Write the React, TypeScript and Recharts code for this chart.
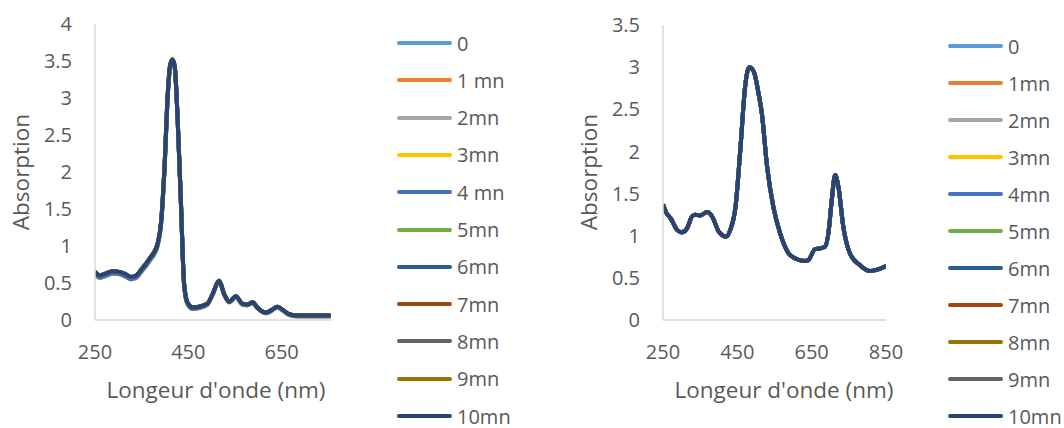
import React from "react";
import { LineChart, Line, XAxis, YAxis } from "recharts";

// left spectrum (Soret band ~416 nm)
const wl1 = [250, 260, 270, 288, 302, 315, 327, 338, 350, 359, 368, 377, 384, 392, 399, 406, 411, 416, 421, 427, 434, 441, 448, 459, 473, 491, 502, 516, 527, 538, 552, 566, 577, 588, 598, 616, 627, 641, 652, 666, 684, 720, 755];
const abs1Late = [0.65, 0.6, 0.62, 0.66, 0.65, 0.62, 0.58, 0.6, 0.69, 0.76, 0.84, 0.92, 1.03, 1.35, 2.07, 3.06, 3.44, 3.52, 3.42, 2.74, 1.62, 0.49, 0.24, 0.17, 0.18, 0.22, 0.35, 0.53, 0.35, 0.25, 0.32, 0.22, 0.21, 0.24, 0.17, 0.1, 0.13, 0.18, 0.14, 0.08, 0.06, 0.06, 0.06];
const abs1Early = [0.62, 0.57, 0.59, 0.63, 0.62, 0.59, 0.55, 0.57, 0.66, 0.73, 0.81, 0.89, 1.0, 1.32, 2.04, 3.03, 3.42, 3.5, 3.4, 2.72, 1.6, 0.47, 0.22, 0.15, 0.16, 0.21, 0.34, 0.52, 0.34, 0.24, 0.31, 0.21, 0.2, 0.23, 0.16, 0.09, 0.12, 0.17, 0.13, 0.07, 0.05, 0.05, 0.05];

// right spectrum
const wl2 = [250, 259, 270, 288, 301, 315, 328, 337, 349, 369, 382, 400, 420, 431, 445, 458, 471, 482, 494, 507, 516, 530, 547, 565, 588, 606, 632, 641, 659, 673, 686, 695, 704, 713, 722, 735, 753, 780, 807, 829, 850];
const abs2 = [1.37, 1.27, 1.21, 1.07, 1.04, 1.09, 1.23, 1.25, 1.24, 1.28, 1.23, 1.05, 0.99, 1.07, 1.34, 2.02, 2.77, 3.0, 2.95, 2.69, 2.45, 1.82, 1.34, 1.03, 0.79, 0.73, 0.7, 0.71, 0.84, 0.85, 0.87, 1.03, 1.42, 1.72, 1.58, 1.11, 0.79, 0.65, 0.58, 0.6, 0.64];

const names1 = ["0", "1 mn", "2mn", "3mn", "4 mn", "5mn", "6mn", "7mn", "8mn", "9mn", "10mn"];
const names2 = ["0", "1mn", "2mn", "3mn", "4mn", "5mn", "6mn", "7mn", "8mn", "9mn", "10mn"];
const colors1 = ["#5B9BD5", "#ED7D31", "#A5A5A5", "#FFC000", "#4472C4", "#70AD47", "#255E91", "#9E480E", "#636363", "#997300", "#264478"];
const colors2 = ["#5B9BD5", "#ED7D31", "#A5A5A5", "#FFC000", "#4472C4", "#70AD47", "#255E91", "#9E480E", "#997300", "#636363", "#264478"];
const source1 = [abs1Early, abs1Early, abs1Early, abs1Early, abs1Early, abs1Late, abs1Late, abs1Late, abs1Late, abs1Late, abs1Late];

const xTicks1 = [250, 450, 650];
const xTicks2 = [250, 450, 650, 850];
const yTicks1 = [0, 0.5, 1, 1.5, 2, 2.5, 3, 3.5, 4];
const yTicks2 = [0, 0.5, 1, 1.5, 2, 2.5, 3, 3.5];

const FONT = "'Open Sans', sans-serif";
const TEXT = "#595959";
const AXIS = "#D9D9D9";

const data1 = wl1.map((w, i) => {
  const row: Record<string, number> = { wl: w };
  names1.forEach((n, k) => (row[n] = source1[k][i]));
  return row;
});
const data2 = wl2.map((w, i) => {
  const row: Record<string, number> = { wl: w };
  names2.forEach((n) => (row[n] = abs2[i]));
  return row;
});

const tickStyle = { fill: TEXT, fontSize: 20, fontFamily: FONT };

const LegendList = ({ names, colors, left, top, step }: any) => (
  <div style={{ position: "absolute", left, top: 0 }}>
    {names.map((n: string, i: number) => (
      <div
        key={n}
        style={{
          position: "absolute",
          top: top + i * step - 14,
          left: 0,
          height: 28,
          display: "flex",
          alignItems: "center",
          whiteSpace: "nowrap",
        }}
      >
        <div style={{ width: 55, height: 4, borderRadius: 2, background: colors[i] }} />
        <span style={{ marginLeft: 5, fontFamily: FONT, fontSize: 20, color: TEXT }}>{n}</span>
      </div>
    ))}
  </div>
);

const Title = ({ text, x, y, rotate }: any) => (
  <div
    style={{
      position: "absolute",
      left: x,
      top: y,
      transform: `translate(-50%, -50%)${rotate ? " rotate(-90deg)" : ""}`,
      fontFamily: FONT,
      fontSize: 22.5,
      color: TEXT,
      whiteSpace: "nowrap",
    }}
  >
    {text}
  </div>
);

const Spectrum = ({ data, names, colors, domain, xTicks, yTicks, yMax, yWidth, margin }: any) => (
  <LineChart width={530} height={428} data={data} margin={margin}>
    <XAxis
      dataKey="wl"
      type="number"
      domain={domain}
      ticks={xTicks}
      allowDataOverflow
      tickLine={false}
      tickSize={0}
      tickMargin={25}
      height={30}
      stroke={AXIS}
      strokeWidth={1.5}
      tick={tickStyle}
    />
    <YAxis
      type="number"
      domain={[0, yMax]}
      ticks={yTicks}
      width={yWidth}
      tickLine={false}
      tickSize={0}
      tickMargin={23}
      stroke={AXIS}
      strokeWidth={1.5}
      tick={tickStyle}
    />
    {names.map((n: string, i: number) => (
      <Line
        key={n}
        dataKey={n}
        type="monotone"
        stroke={colors[i]}
        strokeWidth={4}
        dot={false}
        activeDot={false}
        isAnimationActive={false}
      />
    ))}
  </LineChart>
);

export default function App() {
  return (
    <div style={{ position: "absolute", left: 0, top: 0, width: 1064, height: 428, background: "#fff", overflow: "hidden" }}>
      <div style={{ position: "absolute", left: 0, top: 0 }}>
        <Spectrum
          data={data1}
          names={names1}
          colors={colors1}
          domain={[250, 758]}
          xTicks={xTicks1}
          yTicks={yTicks1}
          yMax={4}
          yWidth={95}
          margin={{ top: 24, right: 198, bottom: 78, left: 0 }}
        />
      </div>
      <div style={{ position: "absolute", left: 532, top: 0 }}>
        <Spectrum
          data={data2}
          names={names2}
          colors={colors2}
          domain={[250, 850]}
          xTicks={xTicks2}
          yTicks={yTicks2}
          yMax={3.5}
          yWidth={131}
          margin={{ top: 25, right: 176, bottom: 78, left: 0 }}
        />
      </div>
      <LegendList names={names1} colors={colors1} left={397} top={43} step={37.3} />
      <LegendList names={names2} colors={colors2} left={948} top={46} step={37} />
      <Title text="Absorption" x={20} y={172} rotate />
      <Title text="Absorption" x={588} y={172} rotate />
      <Title text="Longeur d'onde (nm)" x={216} y={389} />
      <Title text="Longeur d'onde (nm)" x={784} y={389} />
    </div>
  );
}
